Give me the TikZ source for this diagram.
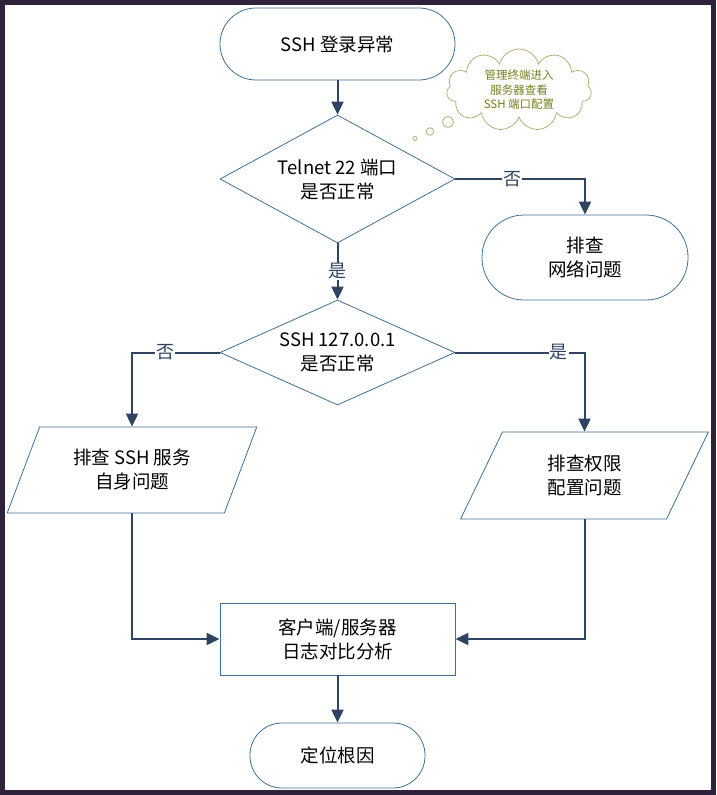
\documentclass[tikz,border=0pt]{standalone}
\usepackage{fontspec}
\setmainfont{Noto Sans CJK SC}
\usetikzlibrary{shapes.geometric,shapes.symbols,arrows.meta}
\definecolor{edgeblue}{RGB}{62,112,150}
\definecolor{flowdark}{RGB}{48,68,98}
\definecolor{cloudline}{RGB}{178,178,120}
\definecolor{cloudtext}{RGB}{118,128,30}
\definecolor{framedark}{RGB}{48,34,58}

\begin{document}
\begin{tikzpicture}[x=1pt,y=1pt,yscale=-1,
	box/.style={draw=edgeblue,line width=0.8pt,align=center,font=\fontsize{18.5}{24}\selectfont,inner sep=0pt},
	term/.style={box,rectangle,rounded corners=#1},
	decide/.style={box,diamond},
	io/.style={box,trapezium,trapezium stretches=true},
	flow/.style={flowdark,line width=2pt,-{Triangle[length=13pt,width=12pt]}},
	bubble/.style={draw=cloudline,fill=white,line width=0.8pt},
	lbl/.style={fill=white,inner sep=1pt,font=\fontsize{18}{20}\selectfont}]
	\useasboundingbox (0,0) rectangle (716,795);
	\draw [framedark,line width=5pt] (2.5,2.5) rectangle (713.5,792.5);
	% shapes
	\node [term=36pt,minimum width=235pt,minimum height=72pt] (start) at (337.5,44) {SSH 登录异常};
	\node [decide,aspect=1.84,minimum width=235pt,minimum height=128pt] (telnet) at (337.5,179) {Telnet 22 端口\\是否正常};
	\node [term=42pt,minimum width=206pt,minimum height=85pt] (net) at (585,257.5) {排查\\网络问题};
	\node [decide,aspect=2.24,minimum width=235pt,minimum height=105pt] (ssh) at (337.5,352.5) {SSH 127.0.0.1\\是否正常};
	\node [io,trapezium left angle=63.4,trapezium right angle=116.6,minimum width=250pt,minimum height=86pt] (self) at (132,470) {排查 SSH 服务\\自身问题};
	\node [io,trapezium left angle=65.3,trapezium right angle=114.7,minimum width=248pt,minimum height=87pt] (perm) at (584.5,475.5) {排查权限\\配置问题};
	\node [box,rectangle,minimum width=235pt,minimum height=72pt] (log) at (337.5,639) {客户端/服务器\\日志对比分析};
	\node [term=32pt,minimum width=175pt,minimum height=65pt] (root) at (337.5,755.5) {定位根因};
	% thought cloud
	\draw [bubble] (448,122) circle (5.5);
	\draw [bubble] (430,131.5) circle (3.8);
	\draw [bubble] (415,138.5) circle (2);
	\node [cloud,bubble,cloud puffs=11,aspect=2,minimum width=145pt,minimum height=82pt,
		inner sep=0pt,align=center,text=cloudtext,font=\fontsize{11.5}{14.5}\selectfont] (note) at (519,90) {管理终端进入\\服务器查看\\SSH 端口配置};
	% connectors
	\draw [flow] (start) -- (telnet);
	\draw [flow] (telnet.east) -| node [lbl,pos=0.22] {否} (net.north);
	\draw [flow] (telnet) -- node [lbl] {是} (ssh);
	\draw [flow] (ssh.west) -| node [lbl,pos=0.31] {否} (self.north);
	\draw [flow] (ssh.east) -| node [lbl,pos=0.4] {是} (perm.north);
	\draw [flow] (self.south) |- (log.west);
	\draw [flow] (perm.south) |- (log.east);
	\draw [flow] (log) -- (root);
\end{tikzpicture}
\end{document}
